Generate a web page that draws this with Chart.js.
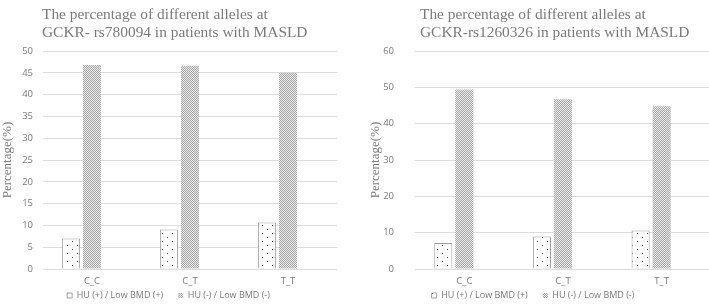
<!DOCTYPE html>
<html>
<head>
<meta charset="utf-8">
<script src="https://cdn.jsdelivr.net/npm/chart.js@4.4.1/dist/chart.umd.min.js"></script>
<style>
  body { margin: 0; width: 709px; height: 307px; overflow: hidden; background: #fff; position: relative; }
  .box { position: absolute; top: 0; height: 307px; }
  .ttl { position: absolute; top: 5px; font-family: "Liberation Serif", "Times New Roman", serif; font-size: 15.4px; line-height: 17.7px; color: #7a7a7a; white-space: nowrap; }
</style>
</head>
<body>
<div class="box" style="left:0;width:339px"><canvas id="rs780094"></canvas></div>
<div class="box" style="left:355px;width:358px"><canvas id="rs1260326"></canvas></div>
<div class="ttl" style="left:42px">The percentage of different alleles at<br>GCKR- rs780094 in patients with MASLD</div>
<div class="ttl" style="left:420px">The percentage of different alleles at<br>GCKR-rs1260326 in patients with MASLD</div>
<script>
const genotypes = ['C_C', 'C_T', 'T_T'];
const seriesNames = ['HU (+) / Low BMD (+)', 'HU (-) / Low BMD (-)'];

// GCKR rs780094
const rs780094Pos = [7.0, 9.1, 10.7];
const rs780094Neg = [46.8, 46.6, 45.0];
// GCKR rs1260326
const rs1260326Pos = [7.2, 9.0, 10.6];
const rs1260326Neg = [49.4, 46.7, 44.8];
// third (empty) series slot kept by the original sheet
const emptySlot = [null, null, null];

function dotPattern() {
  const c = document.createElement('canvas');
  c.width = 10; c.height = 8;
  const g = c.getContext('2d');
  g.fillStyle = '#fff';
  g.fillRect(0, 0, 10, 8);
  g.fillStyle = '#333';
  g.fillRect(2, 1, 1, 1);
  g.fillRect(7, 5, 1, 1);
  return g.createPattern(c, 'repeat');
}

function checkPattern() {
  const c = document.createElement('canvas');
  c.width = 2; c.height = 2;
  const g = c.getContext('2d');
  g.fillStyle = '#ececec';
  g.fillRect(0, 0, 2, 2);
  g.fillStyle = '#a4a4a4';
  g.fillRect(0, 0, 1, 1);
  g.fillRect(1, 1, 1, 1);
  return g.createPattern(c, 'repeat');
}

// legend sits tight under the category labels, as in the original
const legendLift = {
  id: 'legendLift',
  afterLayout(chart) {
    const lg = chart.legend;
    lg.top = 276;
    lg.bottom = chart.height;
    lg.height = lg.bottom - lg.top;
  }
};

const sansFont = { family: 'Open Sans', size: 9.5 };

function makeChart(id, pos, neg, max, step, axisW, tickPad, titlePad) {
  new Chart(document.getElementById(id), {
    type: 'bar',
    data: {
      labels: genotypes,
      datasets: [
        { label: seriesNames[0], data: pos, backgroundColor: dotPattern(), borderColor: '#a0a0a0', borderWidth: 1 },
        { label: seriesNames[1], data: neg, backgroundColor: checkPattern(), borderColor: '#b0b0b0', borderWidth: 0 },
        { label: '', data: emptySlot }
      ]
    },
    plugins: [legendLift],
    options: {
      responsive: false,
      animation: false,
      categoryPercentage: 0.64,
      barPercentage: 0.86,
      layout: { padding: { top: 51, right: 2, bottom: 0 } },
      plugins: {
        tooltip: { enabled: false },
        legend: {
          position: 'bottom',
          maxHeight: 14.5,
          labels: {
            boxWidth: 5, boxHeight: 5, padding: 15,
            color: '#7a7a7a', font: { family: 'Open Sans', size: 9 },
            filter: item => item.text !== ''
          }
        }
      },
      scales: {
        x: {
          grid: { display: false, drawTicks: false },
          border: { display: false },
          ticks: { color: '#7a7a7a', font: sansFont, padding: 6 }
        },
        y: {
          min: 0, max: max,
          afterFit: s => { s.width = axisW; },
          ticks: { stepSize: step, color: '#7a7a7a', font: sansFont, padding: tickPad },
          grid: { color: '#dcdcdc', drawTicks: false },
          border: { display: false },
          title: {
            display: true, text: 'Percentage(%)', color: '#7a7a7a',
            font: { family: 'Liberation Serif', size: 13 },
            padding: { top: titlePad, bottom: 0 }
          }
        }
      }
    }
  });
}

document.getElementById('rs780094').width = 339;
document.getElementById('rs780094').height = 307;
document.getElementById('rs1260326').width = 358;
document.getElementById('rs1260326').height = 307;

makeChart('rs780094', rs780094Pos, rs780094Neg, 50, 5, 43, 10, 0);
makeChart('rs1260326', rs1260326Pos, rs1260326Neg, 60, 10, 60, 21, 13);
</script>
</body>
</html>
